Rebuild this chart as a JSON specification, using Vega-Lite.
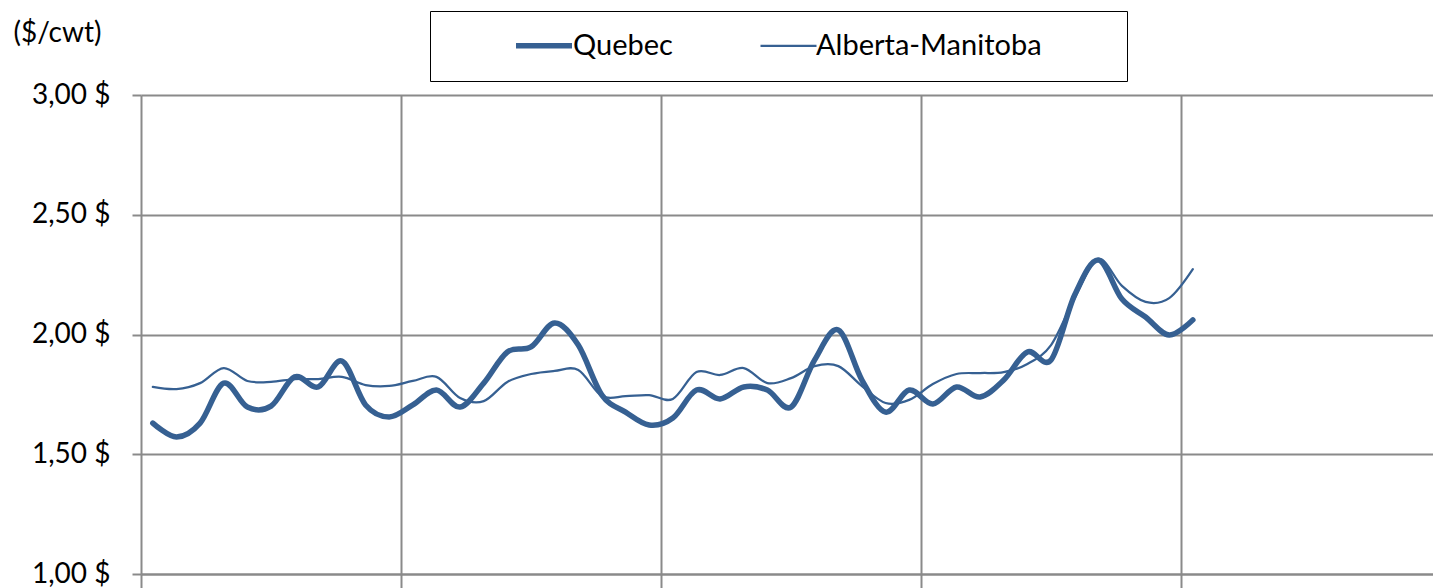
{
  "$schema": "https://vega.github.io/schema/vega-lite/v6.json",
  "usermeta": {"embedOptions": {"actions": false}},
  "width": 1292,
  "height": 479,
  "autosize": {"type": "none"},
  "padding": {"left": 141, "top": 95, "right": 0, "bottom": 14},
  "background": "white",
  "config": {"view": {"stroke": null}, "font": "Lato"},
  "data": {"values": [
    {"t": 0.5, "series": "Quebec", "v": 1.630}, {"t": 1.5, "series": "Quebec", "v": 1.572}, {"t": 2.5, "series": "Quebec", "v": 1.630},
    {"t": 3.5, "series": "Quebec", "v": 1.797}, {"t": 4.5, "series": "Quebec", "v": 1.697}, {"t": 5.5, "series": "Quebec", "v": 1.701},
    {"t": 6.5, "series": "Quebec", "v": 1.823}, {"t": 7.5, "series": "Quebec", "v": 1.781}, {"t": 8.5, "series": "Quebec", "v": 1.889},
    {"t": 9.5, "series": "Quebec", "v": 1.706}, {"t": 10.5, "series": "Quebec", "v": 1.656}, {"t": 11.5, "series": "Quebec", "v": 1.706},
    {"t": 12.5, "series": "Quebec", "v": 1.768}, {"t": 13.5, "series": "Quebec", "v": 1.697}, {"t": 14.5, "series": "Quebec", "v": 1.797},
    {"t": 15.5, "series": "Quebec", "v": 1.927}, {"t": 16.5, "series": "Quebec", "v": 1.948}, {"t": 17.5, "series": "Quebec", "v": 2.048},
    {"t": 18.5, "series": "Quebec", "v": 1.956}, {"t": 19.5, "series": "Quebec", "v": 1.747}, {"t": 20.5, "series": "Quebec", "v": 1.676},
    {"t": 21.5, "series": "Quebec", "v": 1.622}, {"t": 22.5, "series": "Quebec", "v": 1.651}, {"t": 23.5, "series": "Quebec", "v": 1.768},
    {"t": 24.5, "series": "Quebec", "v": 1.731}, {"t": 25.5, "series": "Quebec", "v": 1.781}, {"t": 26.5, "series": "Quebec", "v": 1.768},
    {"t": 27.5, "series": "Quebec", "v": 1.697}, {"t": 28.5, "series": "Quebec", "v": 1.894}, {"t": 29.5, "series": "Quebec", "v": 2.019},
    {"t": 30.5, "series": "Quebec", "v": 1.810}, {"t": 31.5, "series": "Quebec", "v": 1.676}, {"t": 32.5, "series": "Quebec", "v": 1.768},
    {"t": 33.5, "series": "Quebec", "v": 1.710}, {"t": 34.5, "series": "Quebec", "v": 1.781}, {"t": 35.5, "series": "Quebec", "v": 1.739},
    {"t": 36.5, "series": "Quebec", "v": 1.810}, {"t": 37.5, "series": "Quebec", "v": 1.927}, {"t": 38.5, "series": "Quebec", "v": 1.894},
    {"t": 39.5, "series": "Quebec", "v": 2.165}, {"t": 40.5, "series": "Quebec", "v": 2.311}, {"t": 41.5, "series": "Quebec", "v": 2.148},
    {"t": 42.5, "series": "Quebec", "v": 2.073}, {"t": 43.5, "series": "Quebec", "v": 1.998}, {"t": 44.5, "series": "Quebec", "v": 2.061},
    {"t": 0.5, "series": "Alberta-Manitoba", "v": 1.781}, {"t": 1.5, "series": "Alberta-Manitoba", "v": 1.772}, {"t": 2.5, "series": "Alberta-Manitoba", "v": 1.797},
    {"t": 3.5, "series": "Alberta-Manitoba", "v": 1.860}, {"t": 4.5, "series": "Alberta-Manitoba", "v": 1.806}, {"t": 5.5, "series": "Alberta-Manitoba", "v": 1.802},
    {"t": 6.5, "series": "Alberta-Manitoba", "v": 1.814}, {"t": 7.5, "series": "Alberta-Manitoba", "v": 1.814}, {"t": 8.5, "series": "Alberta-Manitoba", "v": 1.823},
    {"t": 9.5, "series": "Alberta-Manitoba", "v": 1.789}, {"t": 10.5, "series": "Alberta-Manitoba", "v": 1.785}, {"t": 11.5, "series": "Alberta-Manitoba", "v": 1.806},
    {"t": 12.5, "series": "Alberta-Manitoba", "v": 1.823}, {"t": 13.5, "series": "Alberta-Manitoba", "v": 1.735}, {"t": 14.5, "series": "Alberta-Manitoba", "v": 1.722},
    {"t": 15.5, "series": "Alberta-Manitoba", "v": 1.802}, {"t": 16.5, "series": "Alberta-Manitoba", "v": 1.835}, {"t": 17.5, "series": "Alberta-Manitoba", "v": 1.848},
    {"t": 18.5, "series": "Alberta-Manitoba", "v": 1.852}, {"t": 19.5, "series": "Alberta-Manitoba", "v": 1.743}, {"t": 20.5, "series": "Alberta-Manitoba", "v": 1.743},
    {"t": 21.5, "series": "Alberta-Manitoba", "v": 1.747}, {"t": 22.5, "series": "Alberta-Manitoba", "v": 1.731}, {"t": 23.5, "series": "Alberta-Manitoba", "v": 1.843},
    {"t": 24.5, "series": "Alberta-Manitoba", "v": 1.831}, {"t": 25.5, "series": "Alberta-Manitoba", "v": 1.860}, {"t": 26.5, "series": "Alberta-Manitoba", "v": 1.797},
    {"t": 27.5, "series": "Alberta-Manitoba", "v": 1.818}, {"t": 28.5, "series": "Alberta-Manitoba", "v": 1.868}, {"t": 29.5, "series": "Alberta-Manitoba", "v": 1.868},
    {"t": 30.5, "series": "Alberta-Manitoba", "v": 1.785}, {"t": 31.5, "series": "Alberta-Manitoba", "v": 1.714}, {"t": 32.5, "series": "Alberta-Manitoba", "v": 1.727},
    {"t": 33.5, "series": "Alberta-Manitoba", "v": 1.793}, {"t": 34.5, "series": "Alberta-Manitoba", "v": 1.835}, {"t": 35.5, "series": "Alberta-Manitoba", "v": 1.839},
    {"t": 36.5, "series": "Alberta-Manitoba", "v": 1.843}, {"t": 37.5, "series": "Alberta-Manitoba", "v": 1.877}, {"t": 38.5, "series": "Alberta-Manitoba", "v": 1.956},
    {"t": 39.5, "series": "Alberta-Manitoba", "v": 2.152}, {"t": 40.5, "series": "Alberta-Manitoba", "v": 2.315}, {"t": 41.5, "series": "Alberta-Manitoba", "v": 2.203},
    {"t": 42.5, "series": "Alberta-Manitoba", "v": 2.136}, {"t": 43.5, "series": "Alberta-Manitoba", "v": 2.152}, {"t": 44.5, "series": "Alberta-Manitoba", "v": 2.273}
  ]},
  "mark": {"type": "line", "interpolate": "cardinal", "tension": 0, "strokeCap": "round", "strokeJoin": "round"},
  "encoding": {
    "x": {
      "field": "t", "type": "quantitative",
      "scale": {"domain": [0, 54.66], "nice": false, "zero": false},
      "axis": {
        "values": [0, 11, 22, 33, 44], "labels": false, "title": null,
        "grid": true, "gridColor": "#8a8a8a", "gridWidth": 2,
        "domain": true, "domainColor": "#8a8a8a", "domainWidth": 2,
        "ticks": true, "tickSize": 16, "tickColor": "#8a8a8a", "tickWidth": 2
      }
    },
    "y": {
      "field": "v", "type": "quantitative",
      "scale": {"domain": [1, 3], "nice": false, "zero": false},
      "axis": {
        "values": [1, 1.5, 2, 2.5, 3],
        "labelExpr": "replace(format(datum.value, '.2f'), '.', ',') + ' $'",
        "labelFont": "Lato", "labelFontSize": 28, "labelColor": "black", "labelPadding": 22,
        "grid": true, "gridColor": "#8a8a8a", "gridWidth": 2,
        "domain": false,
        "ticks": true, "tickSize": 9, "tickColor": "#8a8a8a", "tickWidth": 2,
        "title": "($/cwt)", "titleAngle": 0, "titleAlign": "left", "titleBaseline": "middle",
        "titleX": -128, "titleY": -62, "titleFont": "Lato", "titleFontSize": 28,
        "titleFontWeight": "normal", "titleColor": "black"
      }
    },
    "color": {
      "field": "series", "type": "nominal", "title": "\u00a0",
      "scale": {"domain": ["Quebec", "Alberta-Manitoba"], "range": ["#366092", "#366092"]},
      "legend": {
        "orient": "none", "legendX": 289, "legendY": -84, "direction": "horizontal",
        "titleOrient": "right", "titlePadding": 65, "titleFontSize": 28,
        "strokeColor": "black", "fillColor": "white", "padding": 20,
        "symbolType": "stroke", "symbolSize": 3136, "symbolOffset": 63, "labelOffset": -2,
        "clipHeight": 29, "labelLimit": 400,
        "columnPadding": 23, "labelFont": "Lato", "labelFontSize": 29, "labelColor": "black"
      }
    },
    "strokeWidth": {
      "field": "series", "type": "nominal", "title": "\u00a0",
      "scale": {"domain": ["Quebec", "Alberta-Manitoba"], "range": [5.5, 2.25]}
    }
  }
}
